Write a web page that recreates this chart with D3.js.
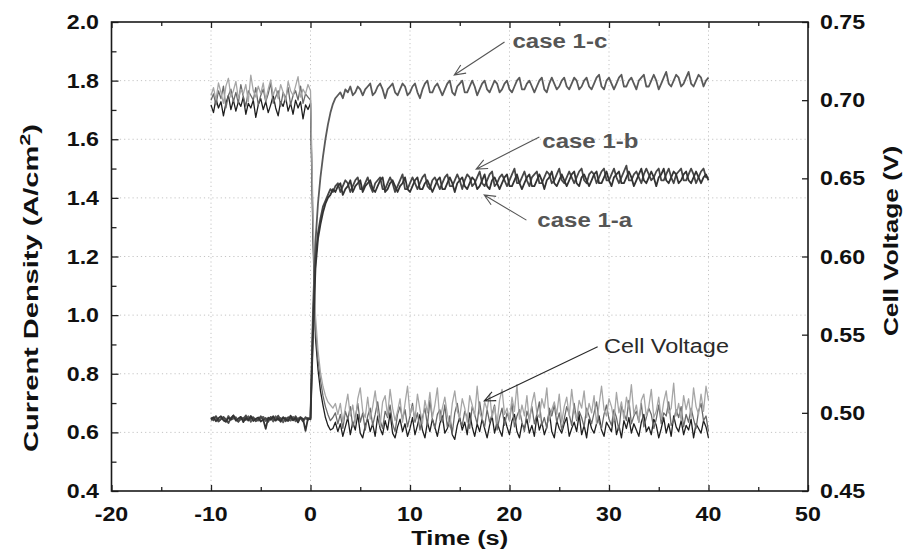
<!DOCTYPE html>
<html><head><meta charset="utf-8">
<script src="https://cdn.jsdelivr.net/npm/d3@7"></script>
<style>body{margin:0;background:#fff} svg{display:block} text{font-family:"Liberation Sans",Arial,sans-serif}</style>
</head><body><svg id="c" width="904" height="553"></svg>
<script>
// ---- DATA ----
const times = [
-10,-9.75,-9.5,-9.25,-9,-8.75,-8.5,-8.25,-8,-7.75,-7.5,-7.25,-7,-6.75,-6.5,-6.25,-6,-5.75,-5.5,-5.25,
-5,-4.75,-4.5,-4.25,-4,-3.75,-3.5,-3.25,-3,-2.75,-2.5,-2.25,-2,-1.75,-1.5,-1.25,-1,-0.75,-0.5,-0.25,
0,0.25,0.5,0.75,1,1.25,1.5,1.75,2,2.25,2.5,2.75,3,3.25,3.5,3.75,4,4.25,4.5,4.75,
5,5.25,5.5,5.75,6,6.25,6.5,6.75,7,7.25,7.5,7.75,8,8.25,8.5,8.75,9,9.25,9.5,9.75,
10,10.25,10.5,10.75,11,11.25,11.5,11.75,12,12.25,12.5,12.75,13,13.25,13.5,13.75,14,14.25,14.5,14.75,
15,15.25,15.5,15.75,16,16.25,16.5,16.75,17,17.25,17.5,17.75,18,18.25,18.5,18.75,19,19.25,19.5,19.75,
20,20.25,20.5,20.75,21,21.25,21.5,21.75,22,22.25,22.5,22.75,23,23.25,23.5,23.75,24,24.25,24.5,24.75,
25,25.25,25.5,25.75,26,26.25,26.5,26.75,27,27.25,27.5,27.75,28,28.25,28.5,28.75,29,29.25,29.5,29.75,
30,30.25,30.5,30.75,31,31.25,31.5,31.75,32,32.25,32.5,32.75,33,33.25,33.5,33.75,34,34.25,34.5,34.75,
35,35.25,35.5,35.75,36,36.25,36.5,36.75,37,37.25,37.5,37.75,38,38.25,38.5,38.75,39,39.25,39.5,39.75,
40];

// Current density (A/cm2), left axis
const case1a = [
.645,.652,.638,.648,.655,.641,.636,.650,.644,.658,
.640,.647,.653,.635,.649,.642,.656,.639,.646,.651,
.637,.644,.612,.650,.643,.655,.641,.648,.636,.652,
.645,.639,.657,.642,.648,.634,.651,.646,.605,.649,
.644,
.93,1.16,1.26,1.31,1.35,1.38,1.40,1.41,1.43,1.42,
1.44,1.45,1.41,1.43,1.44,1.46,1.42,1.44,1.45,1.46,
1.42,1.44,1.45,1.46,1.43,1.42,1.44,1.46,1.47,1.42,
1.43,1.45,1.46,1.44,1.42,1.44,1.45,1.47,1.43,1.42,
1.44,1.46,1.47,1.43,1.43,1.45,1.46,1.44,1.42,1.44,
1.46,1.47,1.43,1.43,1.45,1.47,1.45,1.42,1.45,1.46,
1.47,1.44,1.43,1.45,1.47,1.46,1.43,1.44,1.46,1.48,
1.44,1.43,1.46,1.47,1.45,1.43,1.45,1.47,1.48,1.44,
1.44,1.46,1.48,1.45,1.43,1.45,1.47,1.48,1.44,1.44,
1.46,1.48,1.46,1.43,1.46,1.47,1.49,1.45,1.44,1.46,
1.48,1.46,1.44,1.46,1.48,1.49,1.45,1.44,1.47,1.48,
1.46,1.44,1.46,1.48,1.49,1.45,1.45,1.47,1.49,1.46,
1.44,1.47,1.48,1.49,1.45,1.45,1.47,1.49,1.47,1.44,
1.46,1.48,1.50,1.46,1.45,1.47,1.49,1.47,1.44,1.47,
1.48,1.50,1.46,1.45,1.47,1.49,1.48,1.45,1.46,1.48,
1.49,1.46,1.45,1.47,1.49,1.47,1.45,1.47,1.48,1.46];

const case1b = [
.650,.641,.655,.637,.646,.653,.644,.632,.649,.657,
.643,.636,.651,.645,.658,.640,.647,.652,.638,.644,
.655,.642,.649,.636,.653,.646,.640,.657,.644,.650,
.638,.652,.647,.641,.655,.643,.649,.637,.652,.645,
.648,
.97,1.19,1.28,1.33,1.37,1.39,1.41,1.43,1.42,1.44,
1.45,1.42,1.44,1.46,1.45,1.42,1.44,1.46,1.47,1.43,
1.43,1.45,1.47,1.44,1.42,1.45,1.46,1.47,1.43,1.43,
1.45,1.47,1.45,1.42,1.44,1.46,1.48,1.43,1.43,1.45,
1.47,1.45,1.43,1.45,1.47,1.48,1.44,1.43,1.46,1.47,
1.45,1.43,1.45,1.47,1.48,1.44,1.44,1.46,1.48,1.46,
1.43,1.46,1.48,1.47,1.44,1.45,1.47,1.49,1.45,1.44,
1.46,1.48,1.49,1.44,1.45,1.47,1.48,1.46,1.44,1.46,
1.48,1.50,1.45,1.45,1.47,1.49,1.46,1.44,1.47,1.48,
1.49,1.45,1.45,1.47,1.49,1.48,1.45,1.46,1.48,1.50,
1.46,1.45,1.47,1.49,1.47,1.45,1.47,1.49,1.50,1.46,
1.45,1.48,1.49,1.48,1.45,1.47,1.49,1.50,1.46,1.46,
1.48,1.50,1.47,1.45,1.47,1.49,1.51,1.46,1.46,1.48,
1.49,1.47,1.45,1.48,1.50,1.48,1.46,1.47,1.49,1.50,
1.46,1.46,1.48,1.50,1.47,1.45,1.48,1.49,1.50,1.46,
1.46,1.48,1.50,1.48,1.45,1.47,1.49,1.50,1.47,1.47];

const case1c = [
.641,.648,.654,.639,.645,.650,.637,.656,.643,.647,
.652,.638,.645,.650,.642,.655,.636,.649,.644,.640,
.648,.653,.639,.646,.651,.637,.655,.642,.649,.634,
.650,.644,.640,.653,.638,.647,.652,.641,.648,.643,
.650,
1.02,1.25,1.38,1.47,1.54,1.60,1.65,1.69,1.72,1.74,
1.75,1.76,1.74,1.77,1.76,1.78,1.75,1.76,1.78,1.77,
1.75,1.77,1.78,1.79,1.75,1.76,1.78,1.79,1.77,1.74,
1.77,1.78,1.79,1.76,1.75,1.77,1.79,1.78,1.75,1.76,
1.78,1.79,1.76,1.74,1.77,1.79,1.80,1.76,1.76,1.78,
1.79,1.77,1.75,1.77,1.79,1.80,1.76,1.75,1.78,1.79,
1.80,1.76,1.76,1.78,1.80,1.78,1.75,1.77,1.79,1.80,
1.77,1.76,1.78,1.80,1.79,1.76,1.77,1.79,1.80,1.77,
1.76,1.78,1.80,1.81,1.77,1.77,1.79,1.80,1.78,1.76,
1.78,1.80,1.81,1.77,1.76,1.79,1.81,1.79,1.77,1.78,
1.80,1.81,1.78,1.77,1.79,1.81,1.80,1.77,1.78,1.80,
1.81,1.78,1.77,1.79,1.81,1.82,1.78,1.77,1.80,1.81,
1.79,1.77,1.79,1.81,1.82,1.78,1.78,1.80,1.81,1.79,
1.77,1.80,1.81,1.82,1.78,1.78,1.80,1.82,1.80,1.77,
1.79,1.81,1.83,1.79,1.78,1.80,1.82,1.81,1.78,1.79,
1.81,1.83,1.79,1.78,1.80,1.82,1.81,1.78,1.80,1.81];

// Cell voltage (V), right axis — three runs
const voltLight = [
.703,.708,.700,.711,.705,.698,.709,.714,.702,.706,
.712,.701,.707,.704,.710,.699,.716,.706,.702,.709,
.704,.711,.700,.707,.713,.703,.708,.701,.710,.705,
.699,.712,.706,.703,.709,.715,.702,.707,.704,.710,
.706,
.628,.562,.540,.526,.517,.511,.507,.505,.503,.506,
.499,.506,.494,.503,.512,.498,.505,.493,.509,.516,
.501,.497,.510,.496,.504,.514,.500,.492,.507,.511,
.498,.515,.503,.495,.501,.509,.494,.506,.517,.499,
.504,.496,.512,.502,.493,.508,.500,.513,.497,.505,
.516,.495,.503,.510,.499,.491,.506,.514,.501,.497,
.509,.503,.494,.511,.505,.498,.517,.500,.496,.507,
.502,.512,.497,.504,.493,.508,.515,.499,.503,.495,
.510,.501,.518,.496,.505,.498,.511,.494,.506,.513,
.500,.497,.509,.503,.516,.495,.502,.507,.499,.512,
.494,.504,.510,.498,.515,.501,.496,.508,.503,.514,
.497,.506,.500,.511,.493,.505,.517,.502,.498,.509,
.504,.495,.513,.500,.507,.496,.510,.503,.518,.499,
.505,.494,.508,.512,.498,.504,.515,.497,.501,.510,
.496,.507,.514,.500,.503,.519,.498,.506,.495,.511,
.502,.509,.497,.516,.504,.499,.512,.501,.517,.508];

const voltMedium = [
.700,.704,.697,.706,.701,.709,.695,.703,.707,.699,
.705,.698,.710,.702,.696,.706,.703,.700,.708,.697,
.703,.707,.699,.704,.711,.698,.702,.706,.696,.705,
.701,.708,.697,.703,.706,.700,.709,.698,.704,.702,
.700,
.618,.553,.534,.521,.511,.504,.499,.495,.497,.500,
.493,.499,.490,.501,.496,.504,.491,.497,.506,.494,
.500,.489,.498,.503,.492,.499,.507,.495,.490,.501,
.497,.505,.493,.488,.499,.504,.496,.502,.491,.498,
.506,.494,.500,.489,.497,.503,.492,.508,.496,.490,
.499,.502,.494,.505,.491,.498,.487,.500,.506,.495,
.492,.501,.497,.490,.504,.499,.493,.507,.496,.491,
.502,.494,.499,.505,.489,.497,.503,.492,.500,.495,
.506,.491,.498,.502,.494,.488,.501,.496,.504,.493,
.499,.507,.492,.497,.490,.503,.498,.505,.494,.500,
.489,.496,.504,.499,.492,.506,.495,.501,.497,.491,
.503,.498,.493,.500,.507,.494,.490,.499,.505,.496,
.492,.502,.497,.489,.504,.500,.495,.508,.493,.498,
.501,.494,.506,.491,.497,.503,.499,.490,.496,.505,
.493,.500,.498,.507,.492,.495,.502,.497,.504,.491,
.499,.494,.503,.496,.490,.501,.506,.495,.498,.488];

const voltDark = [
.697,.692,.701,.695,.699,.690,.698,.703,.694,.700,
.693,.699,.696,.702,.691,.698,.695,.700,.689,.697,
.701,.694,.699,.692,.697,.703,.695,.690,.699,.696,
.702,.693,.698,.691,.700,.695,.699,.688,.697,.694,
.698,
.612,.548,.528,.514,.505,.497,.492,.489,.490,.494,
.488,.493,.485,.491,.497,.486,.494,.489,.499,.487,
.484,.492,.496,.488,.493,.485,.498,.490,.486,.495,
.489,.500,.487,.484,.491,.496,.488,.493,.485,.490,
.497,.486,.492,.499,.489,.484,.494,.488,.496,.491,
.485,.493,.498,.487,.490,.495,.486,.483,.492,.497,
.489,.494,.486,.500,.491,.485,.493,.488,.496,.490,
.484,.492,.498,.487,.494,.489,.485,.497,.491,.486,
.495,.499,.488,.484,.493,.490,.496,.487,.492,.485,
.498,.489,.494,.486,.491,.501,.488,.484,.495,.490,
.487,.493,.497,.485,.490,.494,.488,.499,.486,.492,
.484,.496,.490,.487,.493,.498,.489,.485,.494,.491,
.488,.500,.486,.492,.484,.495,.490,.497,.487,.493,
.489,.485,.494,.499,.488,.491,.486,.496,.492,.484,
.490,.497,.487,.493,.485,.498,.491,.488,.495,.486,
.492,.489,.496,.484,.493,.490,.487,.495,.491,.484];

const xTicks = [-20,-10,0,10,20,30,40,50];
const xMinor = [-15,-5,5,15,25,35,45];
const xGrid = [-10,0,10,20,30,40];
const yLTicks = [0.4,0.6,0.8,1.0,1.2,1.4,1.6,1.8,2.0];
const yLMinor = [0.5,0.7,0.9,1.1,1.3,1.5,1.7,1.9];
const yLGrid = [0.6,0.8,1.0,1.2,1.4,1.6,1.8];
const yRTicks = [0.45,0.50,0.55,0.60,0.65,0.70,0.75];

// annotations in data units: [label, textT, textV, fromT, fromV, toT, toV, axis]
const notes = [
 ["case 1-c", 20.3, 1.911, 19.5, 1.932, 14.45, 1.819, "L"],
 ["case 1-b", 23.3, 1.570, 23.0, 1.608, 16.65, 1.498, "L"],
 ["case 1-a", 22.8, 1.300, 21.7, 1.324, 17.46, 1.410, "L"],
 ["Cell Voltage", 29.5, 0.5384, 28.86, 0.5423, 17.46, 0.5076, "R"]
];

// ---- CHART ----
[case1a,case1b,case1c,voltLight,voltMedium,voltDark].forEach((a,i)=>{ if(a.length!==times.length) throw new Error("len mismatch "+i+" "+a.length); });

const svg = d3.select("#c");
const m = {l:111.5, r:808, t:22, b:491};
const x = d3.scaleLinear().domain([-20,50]).range([m.l,m.r]);
const yL = d3.scaleLinear().domain([0.4,2.0]).range([m.b,m.t]);
const yR = d3.scaleLinear().domain([0.45,0.75]).range([m.b,m.t]);

function stretch(sel,k){ sel.each(function(){ const w=this.getComputedTextLength(); this.setAttribute("textLength", w*k); this.setAttribute("lengthAdjust","spacingAndGlyphs"); }); }

// grid
const grid = svg.append("g").attr("stroke","#c4c4c4").attr("stroke-width",1).attr("stroke-dasharray","1.2,3");
grid.selectAll(".gx").data(xGrid).join("line").attr("x1",d=>x(d)).attr("x2",d=>x(d)).attr("y1",m.t).attr("y2",m.b);
grid.selectAll(".gy").data(yLGrid).join("line").attr("y1",d=>yL(d)).attr("y2",d=>yL(d)).attr("x1",m.l).attr("x2",m.r);

// lines
const lineL = d3.line().x((d,i)=>x(times[i])).y(d=>yL(d));
const lineR = d3.line().x((d,i)=>x(times[i])).y(d=>yR(d));
const series = [
 [voltDark, lineR, "#1e1e1e", 1.3],
 [voltMedium, lineR, "#6a6a6a", 1.3],
 [voltLight, lineR, "#a6a6a6", 1.3],
 [case1c, lineL, "#5a5a5a", 1.8],
 [case1b, lineL, "#474747", 1.8],
 [case1a, lineL, "#333333", 1.8]
];
series.forEach(([d,gen,c,w])=>{
  svg.append("path").attr("d",gen(d)).attr("fill","none").attr("stroke",c).attr("stroke-width",w).attr("stroke-linejoin","round");
});

// axes ticks (inward)
function ticksOnly(g){ g.select(".domain").remove(); g.selectAll("line").attr("stroke","#222").attr("stroke-width",1.3); }
svg.append("g").attr("transform",`translate(0,${m.b})`).call(d3.axisBottom(x).tickValues(xTicks).tickSize(-6).tickFormat("")).call(ticksOnly);
svg.append("g").attr("transform",`translate(0,${m.b})`).call(d3.axisBottom(x).tickValues(xMinor).tickSize(-4).tickFormat("")).call(ticksOnly);
svg.append("g").attr("transform",`translate(0,${m.t})`).call(d3.axisTop(x).tickValues(xTicks).tickSize(-6).tickFormat("")).call(ticksOnly);
svg.append("g").attr("transform",`translate(0,${m.t})`).call(d3.axisTop(x).tickValues(xMinor).tickSize(-4).tickFormat("")).call(ticksOnly);
svg.append("g").attr("transform",`translate(${m.l},0)`).call(d3.axisLeft(yL).tickValues(yLTicks).tickSize(-7).tickFormat("")).call(ticksOnly);
svg.append("g").attr("transform",`translate(${m.l},0)`).call(d3.axisLeft(yL).tickValues(yLMinor).tickSize(-5).tickFormat("")).call(ticksOnly);
svg.append("g").attr("transform",`translate(${m.r},0)`).call(d3.axisRight(yR).tickValues(yRTicks).tickSize(-6).tickFormat("")).call(ticksOnly);

// frame
svg.append("rect").attr("x",m.l).attr("y",m.t).attr("width",m.r-m.l).attr("height",m.b-m.t).attr("fill","none").attr("stroke","#1a1a1a").attr("stroke-width",1.6);

// tick labels
const TK = 1.16;
const lab = svg.append("g").attr("font-weight","bold").attr("font-size",20).attr("fill","#111");
lab.selectAll(".xl").data(xTicks).join("text").attr("x",d=>x(d)).attr("y",521).attr("text-anchor","middle").text(d=>String(d)).call(stretch,TK);
lab.selectAll(".yl").data(yLTicks).join("text").attr("x",99).attr("y",d=>yL(d)+7).attr("text-anchor","end").text(d=>d.toFixed(1)).call(stretch,TK);
lab.selectAll(".yr").data(yRTicks).join("text").attr("x",820).attr("y",d=>yR(d)+7).attr("text-anchor","start").text(d=>d.toFixed(2)).call(stretch,TK);

// axis titles
svg.append("text").attr("x",(m.l+m.r)/2).attr("y",545).attr("text-anchor","middle").attr("font-weight","bold").attr("font-size",20).attr("fill","#111").text("Time (s)").call(stretch,1.27);
const lt = svg.append("text").attr("transform","translate(38,288) rotate(-90)").attr("text-anchor","middle").attr("font-weight","bold").attr("font-size",20).attr("fill","#111");
lt.append("tspan").text("Current Density (A/cm");
lt.append("tspan").attr("dy",-8).attr("font-size",15).text("2");
lt.append("tspan").attr("dy",8).text(")");
lt.call(stretch,1.45);
svg.append("text").attr("transform","translate(898,241) rotate(-90)").attr("text-anchor","middle").attr("font-weight","bold").attr("font-size",20).attr("fill","#111").text("Cell Voltage (V)").call(stretch,1.31);

// annotations
function arrow(x1,y1,x2,y2,c){
  const a = Math.atan2(y1-y2,x1-x2), L=12, s=0.42;
  const p = `M${x1},${y1}L${x2},${y2}M${x2+L*Math.cos(a+s)},${y2+L*Math.sin(a+s)}L${x2},${y2}L${x2+L*Math.cos(a-s)},${y2+L*Math.sin(a-s)}`;
  svg.append("path").attr("d",p).attr("fill","none").attr("stroke",c).attr("stroke-width",1.1);
}
notes.forEach(([t,tx,tv,fx,fv,ax,av,axis])=>{
  const ys = axis==="L"?yL:yR;
  const isCase = t.startsWith("case");
  const c = isCase?"#555":"#2a2a2a";
  arrow(x(fx),ys(fv),x(ax),ys(av),c);
  svg.append("text").attr("x",x(tx)).attr("y",ys(tv)).attr("font-size",20).attr("font-weight",isCase?"bold":"normal").attr("fill",c).text(t).call(stretch,isCase?1.2:1.17);
});
</script></body></html>
